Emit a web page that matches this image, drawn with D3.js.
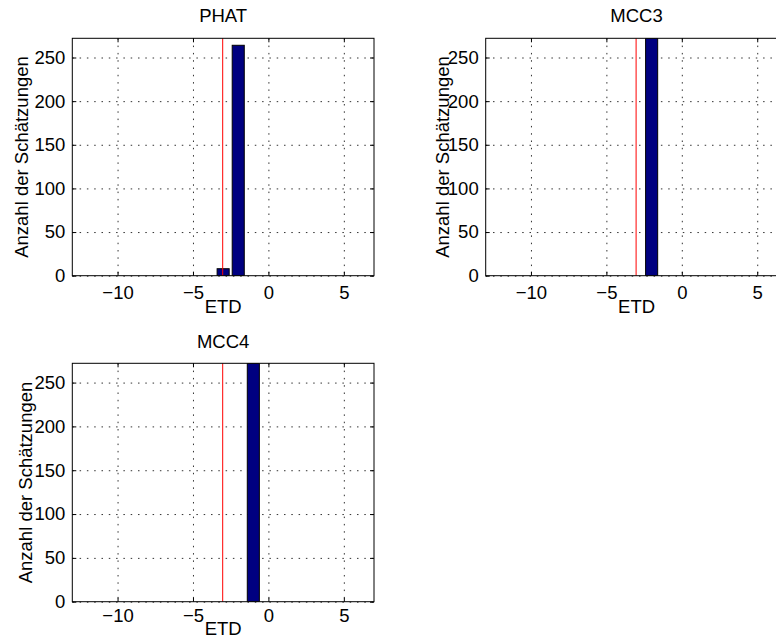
<!DOCTYPE html>
<html>
<head>
<meta charset="utf-8">
<script src="https://cdn.jsdelivr.net/npm/d3@7"></script>
<style>
  body { margin: 0; background: #fff; }
  svg { display: block; }
  text { font-family: "Liberation Sans", Arial, Helvetica, sans-serif; font-size: 18.5px; fill: #000; }
</style>
</head>
<body>
<svg id="fig" width="776" height="642"></svg>
<script>
// Histogram of ETD estimates for three estimators (bin centres in samples)
const panelTitles = ["PHAT", "MCC3", "MCC4"];
const binCenters  = [-3, -2, -1];
const phatCounts  = [8, 264, 0];
const mcc3Counts  = [0, 272, 0];
const mcc4Counts  = [0, 0, 272];
const trueEtd     = -3.03;          // reference delay, drawn as red line
const xTicks      = [-10, -5, 0, 5];
const yTicks      = [0, 50, 100, 150, 200, 250];
const xDomain     = [-13, 7];
const yDomain     = [0, 272];
const xLabel      = "ETD";
const yLabel      = "Anzahl der Schätzungen";

// Subplot placement
const panels = [
  { title: panelTitles[0], counts: phatCounts, left: 72.3,  top: 38.3,  w: 301.7, h: 237.4, ylabX: -44.8, xtickPad: 10, xlabDy: 37.8, titleDy: 16 },
  { title: panelTitles[1], counts: mcc3Counts, left: 485.7, top: 38.3,  w: 301.7, h: 237.4, ylabX: -36.4, xtickPad: 10, xlabDy: 37.8, titleDy: 16 },
  { title: panelTitles[2], counts: mcc4Counts, left: 72.3,  top: 363.3, w: 301.7, h: 238.4, ylabX: -40.3, xtickPad: 7,  xlabDy: 33,   titleDy: 15 }
];

const binWidth = 0.8;
const fmt = d => d < 0 ? "\u2212" + Math.abs(d) : String(d);
const svg = d3.select("#fig");

panels.forEach((p, i) => {
  const g = svg.append("g").attr("transform", `translate(${p.left},${p.top})`);
  const x = d3.scaleLinear().domain(xDomain).range([0, p.w]);
  const y = d3.scaleLinear().domain(yDomain).range([p.h, 0]);

  g.append("clipPath").attr("id", "clip" + i)
    .append("rect").attr("width", p.w).attr("height", p.h);

  // background
  g.append("rect").attr("width", p.w).attr("height", p.h).attr("fill", "#fff");

  // dotted grid
  const gridX = g.append("g").call(d3.axisBottom(x).tickValues(xTicks).tickSize(p.h).tickFormat(""));
  const gridY = g.append("g").call(d3.axisLeft(y).tickValues(yTicks).tickSize(-p.w).tickFormat(""));
  [gridX, gridY].forEach(gg => {
    gg.select(".domain").remove();
    gg.selectAll("line").attr("stroke", "#333").attr("stroke-width", 1).attr("stroke-dasharray", "1.5,5.8");
  });

  // histogram bars
  const data = binCenters.map((c, k) => ({ c, n: p.counts[k] })).filter(d => d.n > 0);
  g.append("g").attr("clip-path", `url(#clip${i})`)
    .selectAll("rect").data(data).join("rect")
    .attr("x", d => x(d.c - binWidth / 2))
    .attr("width", d => x(d.c + binWidth / 2) - x(d.c - binWidth / 2))
    .attr("y", d => y(d.n))
    .attr("height", d => y(0) - y(d.n))
    .attr("fill", "#000080")
    .attr("stroke", "#000")
    .attr("stroke-width", 1);

  // reference delay
  g.append("line")
    .attr("x1", x(trueEtd)).attr("x2", x(trueEtd))
    .attr("y1", 0).attr("y2", p.h)
    .attr("stroke", "#ff0000").attr("stroke-width", 1);

  // axes with inward ticks on all four sides
  const tickLen = 4;
  const ax = g.append("g").attr("transform", `translate(0,${p.h})`)
    .call(d3.axisBottom(x).tickValues(xTicks).tickSizeInner(-tickLen).tickSizeOuter(0).tickPadding(p.xtickPad).tickFormat(fmt));
  const ay = g.append("g")
    .call(d3.axisLeft(y).tickValues(yTicks).tickSizeInner(-tickLen).tickSizeOuter(0).tickPadding(7).tickFormat(fmt));
  const at = g.append("g")
    .call(d3.axisTop(x).tickValues(xTicks).tickSizeInner(-tickLen).tickSizeOuter(0).tickFormat(""));
  const ar = g.append("g").attr("transform", `translate(${p.w},0)`)
    .call(d3.axisRight(y).tickValues(yTicks).tickSizeInner(-tickLen).tickSizeOuter(0).tickFormat(""));
  [ax, ay, at, ar].forEach(a => {
    a.attr("font-size", null).attr("font-family", null);
    a.select(".domain").remove();
    a.selectAll("line").attr("stroke", "#000");
  });

  // box
  g.append("rect").attr("width", p.w).attr("height", p.h)
    .attr("fill", "none").attr("stroke", "#000").attr("stroke-width", 1);

  // title and axis labels
  g.append("text").attr("x", p.w / 2).attr("y", -p.titleDy)
    .attr("text-anchor", "middle").text(p.title);
  g.append("text").attr("x", p.w / 2).attr("y", p.h + p.xlabDy)
    .attr("text-anchor", "middle").text(xLabel);
  g.append("text")
    .attr("transform", `translate(${p.ylabX},${p.h / 2}) rotate(-90)`)
    .attr("text-anchor", "middle").text(yLabel);
});
</script>
</body>
</html>
